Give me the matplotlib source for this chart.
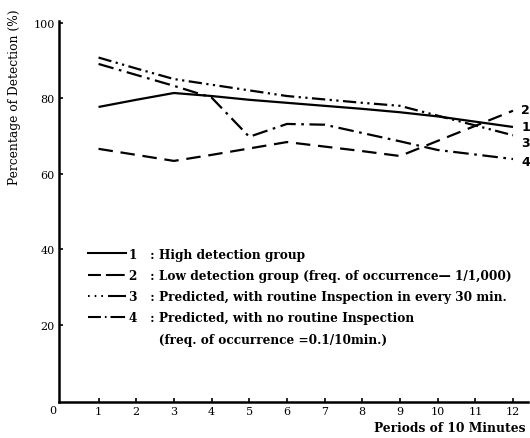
import matplotlib
matplotlib.use('Agg')
import matplotlib.pyplot as plt
from matplotlib.lines import Line2D

# readings from the figure
periods = [1, 2, 3, 4, 5, 6, 7, 8, 9, 10, 11, 12]
high_group = [77.7, 79.6, 81.4, 80.6, 79.6, 78.8, 78.0, 77.2, 76.3, 75.2, 73.8, 72.4]
low_group = [66.6, 65.0, 63.4, 65.0, 66.7, 68.4, 67.2, 66.0, 64.7, 68.7, 72.7, 76.7]
pred_routine = [90.8, 87.9, 85.1, 83.6, 82.1, 80.6, 79.7, 78.8, 78.0, 75.4, 72.8, 70.2]
pred_no_routine = [89.1, 86.2, 83.3, 80.2, 69.8, 73.2, 73.0, 70.8, 68.6, 66.3, 65.1, 63.9]

series_names = ['1', '2', '3', '4']
legend_texts = [
    'High detection group',
    'Low detection group (freq. of occurrence\u2014 1/1,000)',
    'Predicted, with routine Inspection in every 30 min.',
    'Predicted, with no routine Inspection',
]
legend_note = '(freq. of occurrence =0.1/10min.)'
y_ticks = [20, 40, 60, 80, 100]

plt.rcParams['font.family'] = 'DejaVu Serif'

fig = plt.figure(figsize=(5.3, 4.39), dpi=100)
ax = fig.add_axes([0.1113, 0.082, 0.885, 0.868])

lw = 1.6
l1, = ax.plot(periods, high_group, color='black', lw=lw, solid_capstyle='butt')
l2, = ax.plot(periods, low_group, color='black', lw=lw, dashes=(6.5, 3.5))
l3, = ax.plot(periods, pred_routine, color='black', lw=lw, dashes=(6, 2, 1, 2, 1, 2))
l4, = ax.plot(periods, pred_no_routine, color='black', lw=lw, dashes=(7, 2.5, 1.2, 2.5))

# numbers at the line ends
end_offsets = {'1': 0, '2': 1, '3': -5, '4': -1.5}
for name, vals in zip(series_names, [high_group, low_group, pred_routine, pred_no_routine]):
    ax.annotate(name, xy=(periods[-1], vals[-1]), xytext=(6, end_offsets[name]),
                textcoords='offset points', ha='left', va='center',
                fontsize=9, fontweight='bold', family='DejaVu Sans')

ax.set_xlim(-0.05, 12.4)
ax.set_ylim(-0.5, 100.5)
ax.set_xticks(periods)
ax.set_yticks(y_ticks)
ax.tick_params(direction='in', length=3, width=1.2, labelsize=8, pad=3)
ax.tick_params(axis='x', pad=3)
for s in ['top', 'right']:
    ax.spines[s].set_visible(False)
for s in ['left', 'bottom']:
    ax.spines[s].set_linewidth(1.8)
ax.annotate('0', xy=(0, 0), xytext=(-6, -7), textcoords='offset points',
            ha='center', va='center', fontsize=8)

fig.text(15 / 530, 1 - 97 / 439, 'Percentage of Detection (%)', rotation=90,
         ha='center', va='center', fontsize=8.8)
ax.set_xlabel('Periods of 10 Minutes', fontsize=8.8, fontweight='bold')
ax.xaxis.set_label_coords(0.995, -0.05)
ax.xaxis.label.set_horizontalalignment('right')

# legend with hand-drawn looking samples
h1 = Line2D([], [], color='black', lw=1.5)
h2 = Line2D([], [], color='black', lw=1.5, dashes=(6.2, 2.4, 9, 20))
h3 = Line2D([], [], color='black', lw=1.5, dashes=(0.8, 2.4, 0.8, 2.4, 0.8, 2.4, 9, 20))
h4 = Line2D([], [], color='black', lw=1.5, dashes=(6.2, 1.9, 0.8, 1.9, 7, 20))
h5 = Line2D([], [], color='none', lw=0)
labels = [n + '   : ' + t for n, t in zip(series_names, legend_texts)]
labels.append(' ' * 7 + legend_note)
leg = ax.legend([h1, h2, h3, h4, h5], labels, loc='upper left', bbox_to_anchor=(0.062, 0.405),
                frameon=False, handlelength=3.1, handletextpad=0.3, labelspacing=0.68,
                borderpad=0, borderaxespad=0,
                prop={'family': 'DejaVu Serif', 'weight': 'bold', 'size': 8.7})

fig.savefig('out.png', dpi=100)
